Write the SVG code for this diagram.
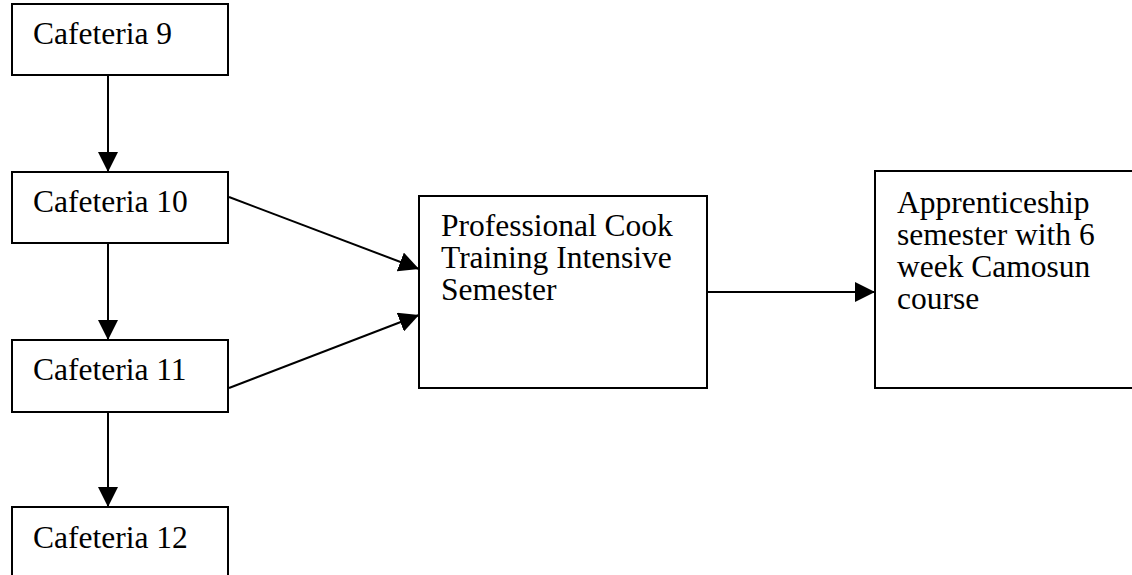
<svg xmlns="http://www.w3.org/2000/svg" width="1132" height="575" viewBox="0 0 1132 575">
<style>
.box{fill:#fff;stroke:#000;stroke-width:2}
.lbl{font-family:"Liberation Serif","Times New Roman",serif;font-size:31.5px;fill:#000}
.conn{stroke:#000;stroke-width:2;fill:none}
</style>
<defs>
<marker id="ah" markerUnits="userSpaceOnUse" markerWidth="20" markerHeight="20" refX="20" refY="10" orient="auto" viewBox="0 0 20 20">
<path d="M0,0 L20,10 L0,20 Z" fill="#000"/>
</marker>
</defs>
<rect width="1132" height="575" fill="#fff"/>
<g id="caf9"><rect class="box" x="12" y="4" width="216" height="71"/><text class="lbl" x="33" y="44">Cafeteria 9</text></g>
<g id="caf10"><rect class="box" x="12" y="172" width="216" height="71"/><text class="lbl" x="33" y="212">Cafeteria 10</text></g>
<g id="caf11"><rect class="box" x="12" y="340" width="216" height="72"/><text class="lbl" x="33" y="380">Cafeteria 11</text></g>
<g id="caf12"><rect class="box" x="12" y="507" width="216" height="90"/><text class="lbl" x="33" y="548">Cafeteria 12</text></g>
<g id="pct"><rect class="box" x="419" y="196" width="288" height="192"/><text class="lbl"><tspan x="441" y="236">Professional Cook</tspan><tspan x="441" y="268">Training Intensive</tspan><tspan x="441" y="300">Semester</tspan></text></g>
<g id="appr"><rect class="box" x="875" y="171" width="280" height="217"/><text class="lbl"><tspan x="897" y="213">Apprenticeship</tspan><tspan x="897" y="245">semester with 6</tspan><tspan x="897" y="277">week Camosun</tspan><tspan x="897" y="309">course</tspan></text></g>
<g id="connectors">
<line class="conn" x1="108" y1="75" x2="108" y2="172" marker-end="url(#ah)"/>
<line class="conn" x1="108" y1="243" x2="108" y2="340" marker-end="url(#ah)"/>
<line class="conn" x1="108" y1="412" x2="108" y2="507" marker-end="url(#ah)"/>
<line class="conn" x1="229" y1="197" x2="419" y2="269" marker-end="url(#ah)"/>
<line class="conn" x1="229" y1="388" x2="419" y2="315" marker-end="url(#ah)"/>
<line class="conn" x1="707" y1="292" x2="875" y2="292" marker-end="url(#ah)"/>
</g>
</svg>
